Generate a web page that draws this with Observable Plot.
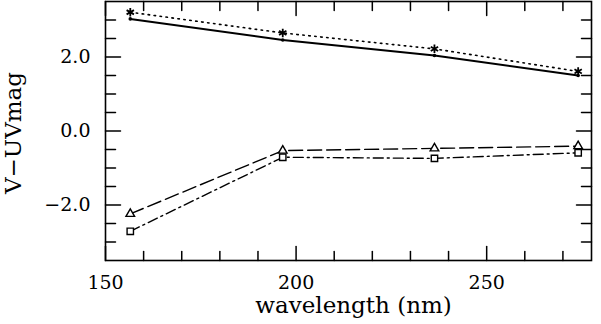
<!DOCTYPE html>
<html>
<head>
<meta charset="utf-8">
<script src="https://cdn.jsdelivr.net/npm/d3@7"></script>
<script src="https://cdn.jsdelivr.net/npm/@observablehq/plot@0.6"></script>
<style>
  html, body { margin: 0; padding: 0; background: #fff; }
  svg { display: block; }
</style>
</head>
<body>
<div id="chart"></div>
<script>
const wavelength = [156.5, 196.5, 236.3, 274.0];
const seriesSolid = [3.03, 2.46, 2.04, 1.50];      // small dots, solid line
const seriesDotted = [3.21, 2.65, 2.22, 1.61];     // asterisks, dotted line
const seriesDashed = [-2.24, -0.53, -0.47, -0.41]; // triangles, dashed line
const seriesDashDot = [-2.71, -0.71, -0.74, -0.59];// squares, dash-dot line

const xMajor = [150, 200, 250];
const xMinor = [160, 170, 180, 190, 210, 220, 230, 240, 260, 270];
const yMajor = [-2, 0, 2];
const yMinor = [-3, -2.5, -1.5, -1, -0.5, 0.5, 1, 1.5, 2.5, 3];

const toRows = (vals) => vals.map((v, i) => ({x: wavelength[i], y: v}));
const solid = toRows(seriesSolid);
const dotted = toRows(seriesDotted);
const dashed = toRows(seriesDashed);
const dashdot = toRows(seriesDashDot);

const tickShape = {draw(context, l) { context.moveTo(0, 0); context.lineTo(0, -l); }};
const serif = "DejaVu Serif";

function ticksX(values, len) {
  return [
    Plot.vector(values, {x: d => d, frameAnchor: "bottom", length: len, rotate: 0, anchor: "start", shape: tickShape, strokeWidth: 1.5, stroke: "black"}),
    Plot.vector(values, {x: d => d, frameAnchor: "top", length: len, rotate: 180, anchor: "start", shape: tickShape, strokeWidth: 1.5, stroke: "black"})
  ];
}
function ticksY(values, len) {
  return [
    Plot.vector(values, {y: d => d, frameAnchor: "left", length: len, rotate: 90, anchor: "start", shape: tickShape, strokeWidth: 1.5, stroke: "black"}),
    Plot.vector(values, {y: d => d, frameAnchor: "right", length: len, rotate: -90, anchor: "start", shape: tickShape, strokeWidth: 1.5, stroke: "black"})
  ];
}

const plot = Plot.plot({
  width: 601,
  height: 324,
  marginLeft: 105,
  marginRight: 10,
  marginTop: 1,
  marginBottom: 64,
  style: {fontFamily: serif, fontSize: "19px", color: "black", background: "white"},
  x: {domain: [150, 277.5]},
  y: {domain: [-3.5, 3.5]},
  marks: [
    Plot.axisX({ticks: xMajor, tickSize: 0, tickPadding: 15, label: null, fontSize: 19}),
    Plot.axisY({ticks: yMajor, tickSize: 0, tickPadding: 15, tickFormat: d => d3.format(".1f")(d).replace("-", "\u2212"), label: null, fontSize: 19}),
    ...ticksX(xMajor, 14),
    ...ticksX(xMinor, 9),
    ...ticksY(yMajor, 15),
    ...ticksY(yMinor, 10),
    Plot.frame({stroke: "black", strokeWidth: 1.6}),
    Plot.line(solid, {x: "x", y: "y", stroke: "black", strokeWidth: 2}),
    Plot.dot(solid, {x: "x", y: "y", r: 1.8, fill: "black"}),
    Plot.line(dotted, {x: "x", y: "y", stroke: "black", strokeWidth: 1.6, strokeDasharray: "1.5,4.5"}),
    Plot.dot(dotted, {x: "x", y: "y", symbol: "asterisk", r: 4, stroke: "black", strokeWidth: 1.8}),
    Plot.line(dashed, {x: "x", y: "y", stroke: "black", strokeWidth: 1.4, strokeDasharray: "14,5"}),
    Plot.dot(dashed, {x: "x", y: "y", symbol: "triangle", r: 3.2, stroke: "black", fill: "white", strokeWidth: 1.4}),
    Plot.line(dashdot, {x: "x", y: "y", stroke: "black", strokeWidth: 1.4, strokeDasharray: "10,4,2,4"}),
    Plot.dot(dashdot, {x: "x", y: "y", symbol: "square", r: 3.6, stroke: "black", fill: "white", strokeWidth: 1.4}),
    Plot.text(["wavelength (nm)"], {frameAnchor: "bottom", textAnchor: "middle", lineAnchor: "bottom", dx: 5, dy: 52, fontSize: 23, fontFamily: serif, fill: "black"}),
    Plot.text(["V\u2212UVmag"], {frameAnchor: "left", textAnchor: "middle", lineAnchor: "bottom", dx: -85, dy: 2, rotate: -90, fontSize: 23, fontFamily: serif, fill: "black"})
  ]
});
document.getElementById("chart").appendChild(plot);
</script>
</body>
</html>
